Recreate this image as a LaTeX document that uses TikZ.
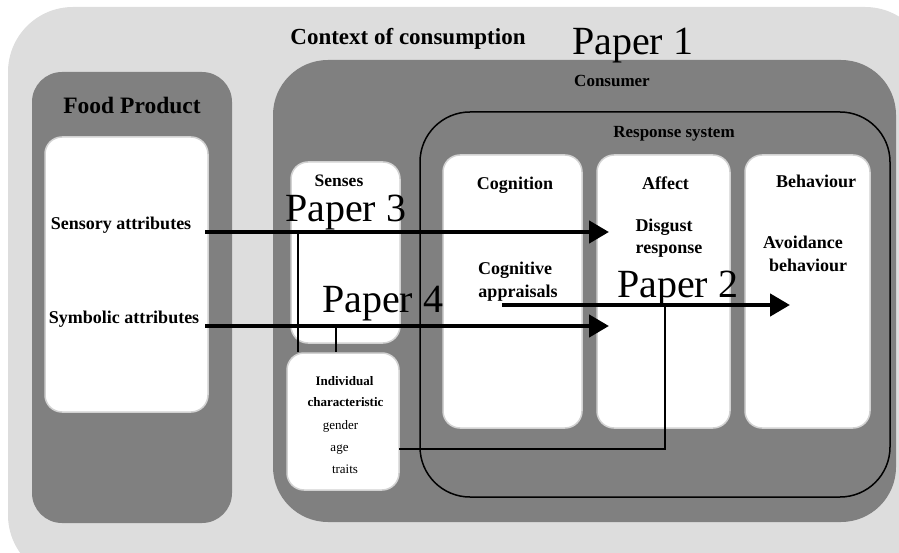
\documentclass[tikz,border=0pt]{standalone}
\usepackage{fontspec}
\setmainfont{Liberation Serif}
\usetikzlibrary{arrows.meta}
\definecolor{ctxgrey}{HTML}{DDDDDD}
\definecolor{midgrey}{HTML}{808080}
\definecolor{rimgrey}{HTML}{D2D2D2}
\tikzset{
  lbl/.style={font=\bfseries\fontsize{18}{20}\selectfont, anchor=base, inner sep=0pt},
  small/.style={font=\bfseries\fontsize{13}{15}\selectfont, anchor=base, inner sep=0pt},
  plain/.style={font=\fontsize{13}{15}\selectfont, anchor=base, inner sep=0pt},
  paper/.style={font=\fontsize{40}{40}\selectfont, anchor=base west, inner sep=0pt},
  panel/.style={fill=white, draw=rimgrey, line width=1.5pt, rounded corners=17pt, inner sep=0pt},
  flow/.style={line width=4.5pt, -{Triangle[length=20pt,width=22pt]}},
  tie/.style={line width=1.1pt},
}
\begin{document}
\begin{tikzpicture}[x=1pt, y=-1pt]
\useasboundingbox (0,0) rectangle (899,553);

% context, product and consumer areas
\fill[ctxgrey, rounded corners=65pt] (8,7) rectangle (930,580);
\fill[midgrey, rounded corners=30pt] (32,72) rectangle (232,523);
\fill[midgrey, rounded corners=55pt] (273,60) rectangle (896,522);
\draw[line width=1.5pt, rounded corners=50pt] (420,112) rectangle (890,497);

% white panels
\node[panel, minimum width=163pt, minimum height=275pt] (food) at (126.5,274.5) {};
\node[panel, minimum width=109pt, minimum height=181pt] (senses) at (345.5,252.5) {};
\node[panel, minimum width=112pt, minimum height=137pt] (indiv) at (343,421.5) {};
\node[panel, minimum width=139pt, minimum height=273pt] (cogn) at (512.5,291.5) {};
\node[panel, minimum width=133pt, minimum height=273pt] (affect) at (663.5,291.5) {};
\node[panel, minimum width=125pt, minimum height=273pt] (behav) at (807.5,291.5) {};

% headings
\node[lbl, font=\bfseries\fontsize{23}{25}\selectfont] (ctx) at (408,45) {Context of consumption};
\node[lbl, font=\bfseries\fontsize{23.5}{25}\selectfont] (foodt) at (132,114) {Food Product};
\node[lbl, font=\bfseries\fontsize{17}{19}\selectfont] (cons) at (612,87) {Consumer};
\node[lbl, font=\bfseries\fontsize{17}{19}\selectfont] (resp) at (674,138) {Response system};
\node[lbl, font=\bfseries\fontsize{17.5}{19}\selectfont] (sensest) at (339,187) {Senses};
\node[lbl] (cognt) at (515,190) {Cognition};
\node[lbl] (affectt) at (665.5,190) {Affect};
\node[lbl] (behavt) at (816,188) {Behaviour};

% panel contents
\node[lbl] (sensory) at (121,230) {Sensory attributes};
\node[lbl] (symbolic) at (124,323) {Symbolic attributes};
\node[lbl] (disg1) at (664,232) {Disgust};
\node[lbl] (disg2) at (669,254) {response};
\node[lbl] (avoid1) at (803,249) {Avoidance};
\node[lbl] (avoid2) at (808,272) {behaviour};
\node[lbl] (appr1) at (515,275) {Cognitive};
\node[lbl] (appr2) at (518,297) {appraisals};
\node[small] (ind1) at (344.5,385) {Individual};
\node[small] (ind2) at (345.5,406) {characteristic};
\node[plain] (ind3) at (340.5,429) {gender};
\node[plain] (ind4) at (339.5,451) {age};
\node[plain] (ind5) at (345,473) {traits};

% connector end points
\coordinate (s1) at (205,232);
\coordinate (e1) at (609,232);
\coordinate (s2) at (205,326);
\coordinate (e2) at (609,326);
\coordinate (s3) at (502,305);
\coordinate (e3) at (790,305);
\coordinate (j1) at (298,232);
\coordinate (j2) at (336,326);
\coordinate (j3) at (665,305);
\coordinate (k3) at (399,449);

% thin links from individual characteristics
\draw[tie] (j1) -- (j1 |- indiv.north);
\draw[tie] (j2) -- (j2 |- indiv.north);
\draw[tie] (k3) -| (j3);

% main flows
\draw[flow] (s1) -- (e1);
\draw[flow] (s2) -- (e2);
\draw[flow] (s3) -- (e3);

% paper labels
\node[paper] (p1) at (572,55) {Paper 1};
\node[paper] (p3) at (285,222) {Paper 3};
\node[paper] (p4) at (322,312) {Paper 4};
\node[paper] (p2) at (617,297) {Paper 2};
\end{tikzpicture}
\end{document}
